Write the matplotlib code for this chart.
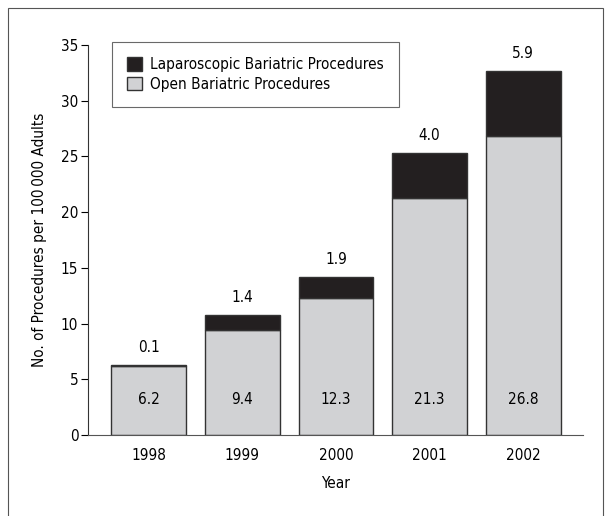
import matplotlib
matplotlib.use("Agg")
import matplotlib.pyplot as plt
from matplotlib.patches import Rectangle

plt.rcParams['font.family'] = ['DejaVu Sans']
plt.rcParams['font.stretch'] = 'condensed'

# data
years = ['1998', '1999', '2000', '2001', '2002']
open_rate = [6.2, 9.4, 12.3, 21.3, 26.8]
lap_rate = [0.1, 1.4, 1.9, 4.0, 5.9]

fig = plt.figure(figsize=(6.11, 5.16), dpi=100)

# thin frame round the whole figure
fig.patches.append(Rectangle((8 / 611, -0.05), 595 / 611, 1.05 - 8 / 516,
                             transform=fig.transFigure, fill=False,
                             edgecolor='#555555', linewidth=0.8))

ax = fig.add_axes([88 / 611, 1 - 435 / 516, 495 / 611, 390 / 516])

x = range(len(years))
ax.bar(x, open_rate, width=0.8, color='#d1d2d4', edgecolor='#333333',
       linewidth=1.0, label='Open Bariatric Procedures')
ax.bar(x, lap_rate, width=0.8, bottom=open_rate, color='#231f20',
       edgecolor='#333333', linewidth=1.0,
       label='Laparoscopic Bariatric Procedures')

# value labels: open inside the bar, laparoscopic above it
for i in x:
    ax.text(i, 3.2, f'{open_rate[i]:.1f}', ha='center', va='center', fontsize=11)
    ax.annotate(f'{lap_rate[i]:.1f}', (i, open_rate[i] + lap_rate[i]),
                xytext=(0, 7), textcoords='offset points',
                ha='center', va='bottom', fontsize=11)

ax.set_xlim(-0.65, 4.64)
ax.set_ylim(0, 35)
ax.set_yticks(range(0, 36, 5))
ax.set_xticks(list(x))
ax.set_xticklabels(years)
ax.tick_params(axis='x', length=0, labelsize=11, pad=9)
ax.tick_params(axis='y', length=5, width=0.8, labelsize=11, pad=2)
ax.spines['top'].set_visible(False)
ax.spines['right'].set_visible(False)
ax.spines['left'].set_color('#333333')
ax.spines['bottom'].set_color('#555555')

ax.set_xlabel('Year', fontsize=11, labelpad=10)
ax.set_ylabel('No. of Procedures per 100\u2009000 Adults', fontsize=11, labelpad=10)

handles, labels = ax.get_legend_handles_labels()
leg = ax.legend(handles[::-1], labels[::-1], loc='upper left',
                bbox_to_anchor=(0.048, 1.008), fontsize=11, fancybox=False,
                edgecolor='#444444', borderpad=1.0, handlelength=1.0,
                handleheight=1.0, handletextpad=0.5, labelspacing=0.3,
                borderaxespad=0)
leg.get_frame().set_linewidth(0.8)

plt.savefig('out.png', dpi=100)
